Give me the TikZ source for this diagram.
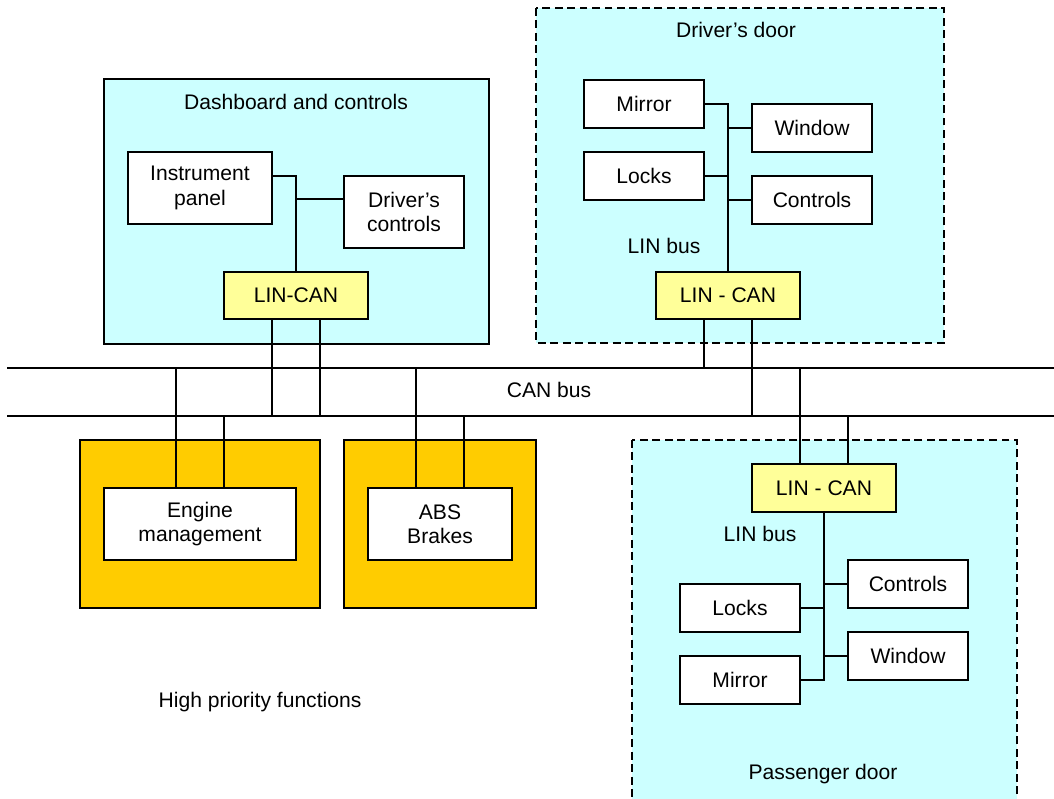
\documentclass[tikz,border=0pt]{standalone}
\usepackage{fontspec}
\setmainfont{Liberation Sans}
\usetikzlibrary{calc}

\definecolor{zonecyan}{HTML}{CCFFFF}
\definecolor{gwyellow}{HTML}{FFFF99}
\definecolor{prioorange}{HTML}{FFCC00}

\begin{document}
\begin{tikzpicture}[x=0.02cm,y=-0.02cm,line width=0.9pt,
	font=\fontsize{12}{13.8}\selectfont,
	zone/.style={draw,fill=zonecyan},
	door_zone/.style={draw,fill=zonecyan,dash pattern=on 4.5pt off 2.6pt},
	prio_zone/.style={draw,fill=prioorange},
	ecu/.style={draw,fill=white,align=center,inner sep=0pt,minimum width=2.4cm,minimum height=0.96cm},
	gateway/.style={draw,fill=gwyellow,inner sep=0pt,minimum width=2.88cm,minimum height=0.95cm}]

	\clip (0,0) rectangle (1054,798);

	\draw[zone] (104,79) rectangle (489,344);
	\draw[door_zone] (536,8) rectangle (944,343);
	\draw[door_zone] (632,440) rectangle (1017,830);
	\draw[prio_zone] (80,440) rectangle (320,608);
	\draw[prio_zone] (344,440) rectangle (536,608);

	\node at (296,102) {Dashboard and controls};
	\node at (736,30) {Driver’s door};
	\node at (823,774) {Passenger door};
	\node at (260,702) {High priority functions};
	\node at (664,246) {LIN bus};
	\node at (760,534) {LIN bus};
	\node at (549,390) {CAN bus};

	\coordinate (canTL) at (7,368);
	\coordinate (canTR) at (1054,368);
	\coordinate (canBL) at (7,416);
	\coordinate (canBR) at (1054,416);
	\draw (canTL) -- (canTR);
	\draw (canBL) -- (canBR);

	% dashboard
	\node[ecu,minimum width=2.88cm,minimum height=1.44cm] (instr) at (200,188) {Instrument\\panel};
	\node[ecu,minimum height=1.44cm] (dctrl) at (404,212) {Driver’s\\controls};
	\node[gateway] (dashgw) at (296,295.5) {LIN-CAN};

	% driver's door
	\node[ecu] (dmirror) at (644,104) {Mirror};
	\node[ecu] (dlocks) at (644,176) {Locks};
	\node[ecu] (dwindow) at (812,128) {Window};
	\node[ecu] (dcontrols) at (812,200) {Controls};
	\node[gateway] (drvgw) at (728,295.5) {LIN - CAN};

	% passenger door
	\node[gateway] (pasgw) at (824,488) {LIN - CAN};
	\node[ecu] (pcontrols) at (908,584) {Controls};
	\node[ecu] (plocks) at (740,608) {Locks};
	\node[ecu] (pwindow) at (908,656) {Window};
	\node[ecu] (pmirror) at (740,680) {Mirror};

	% high priority
	\node[ecu,minimum width=3.84cm,minimum height=1.44cm] (engine) at (200,524) {Engine\\management};
	\node[ecu,minimum width=2.88cm,minimum height=1.44cm] (abs) at (440,524) {ABS\\Brakes};

	\draw ([yshift=0.24cm]instr.east) -| (dashgw.north);
	\draw ([yshift=0.26cm]dctrl.west) -| (dashgw.north);

	\draw (dmirror.east) -| (drvgw.north);
	\draw (dlocks.east) -| (drvgw.north);
	\draw (dwindow.west) -| (drvgw.north);
	\draw (dcontrols.west) -| (drvgw.north);

	\draw (pmirror.east) -| (pasgw.south);
	\draw (plocks.east) -| (pasgw.south);
	\draw (pwindow.west) -| (pasgw.south);
	\draw (pcontrols.west) -| (pasgw.south);

	\draw ([xshift=-0.48cm]dashgw.south) |- (canBL);
	\draw ([xshift=0.48cm]dashgw.south) |- (canBL);
	\draw ([xshift=-0.48cm]drvgw.south) |- (canTR);
	\draw ([xshift=0.48cm]drvgw.south) |- (canBR);
	\draw ([xshift=-0.48cm]pasgw.north) |- (canTR);
	\draw ([xshift=0.48cm]pasgw.north) |- (canBR);
	\draw ([xshift=-0.48cm]engine.north) |- (canTL);
	\draw ([xshift=0.48cm]engine.north) |- (canBL);
	\draw ([xshift=-0.48cm]abs.north) |- (canTL);
	\draw ([xshift=0.48cm]abs.north) |- (canBL);
\end{tikzpicture}
\end{document}
